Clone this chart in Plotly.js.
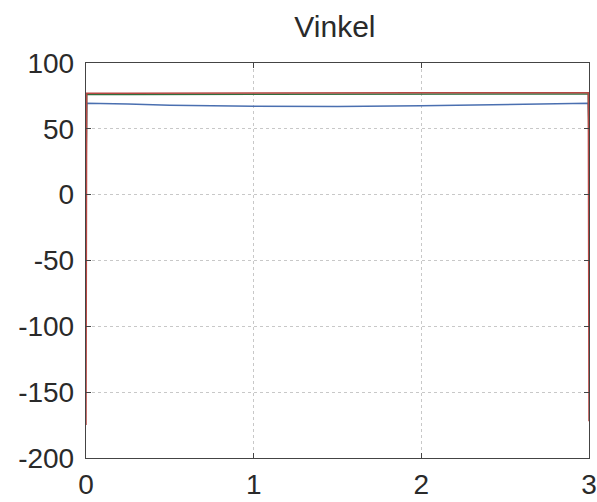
<!DOCTYPE html>
<html>
<head>
<meta charset="utf-8">
<script src="https://cdn.plot.ly/plotly-3.0.1.min.js"></script>
<style>
  html, body { margin: 0; padding: 0; background: #fff; }
  #plot { width: 597px; height: 502px; }
</style>
</head>
<body>
<div id="plot"></div>
<script>
// Time samples (s) and angle traces (degrees)
const time = [0, 0.004, 0.25, 0.5, 1.0, 1.5, 2.0, 2.5, 2.75, 2.996, 3.0];
const angleRed   = [-175, 77.0, 77.1, 77.2, 77.3, 77.3, 77.4, 77.4, 77.4, 77.4, -172];
const angleGreen = [0, 76.0, 76.1, 76.2, 76.3, 76.4, 76.5, 76.5, 76.5, 76.5, 30];
const angleBlue  = [20, 69.5, 68.8, 68.0, 67.2, 67.0, 67.6, 68.4, 68.8, 69.4, 50];
const xTicks = [0, 1, 2, 3];
const yTicks = [-200, -150, -100, -50, 0, 50, 100];

const traces = [
  { x: time, y: angleBlue,  mode: 'lines', line: { color: '#4a6fb0', width: 1.5 } },
  { x: time, y: angleGreen, mode: 'lines', line: { color: '#2f6e3e', width: 1.5 } },
  { x: time, y: angleRed,   mode: 'lines', line: { color: '#b84844', width: 1.5 } }
];

const axisCommon = {
  showline: true, linecolor: '#444', linewidth: 1.2, mirror: 'ticks',
  ticks: 'inside', ticklen: 5, tickcolor: '#444',
  showgrid: true, gridcolor: '#c8c8c8', griddash: 'dot', gridwidth: 1,
  zeroline: false,
  tickfont: { family: 'Liberation Sans, Arial, sans-serif', size: 28, color: '#2a2a2a' }
};

const layout = {
  width: 597, height: 502,
  margin: { l: 86, r: 8, t: 63, b: 44 },
  paper_bgcolor: '#fff', plot_bgcolor: '#fff',
  showlegend: false,
  title: { text: 'Vinkel', x: 0.561, xanchor: 'center', y: 0.948, yanchor: 'middle',
           font: { family: 'Liberation Sans, Arial, sans-serif', size: 30, color: '#2a2a2a' } },
  xaxis: Object.assign({}, axisCommon, { range: [0, 3], tickvals: xTicks, ticktext: xTicks.map(String), ticklabelstandoff: 1 }),
  yaxis: Object.assign({}, axisCommon, { range: [-200, 100], tickvals: yTicks, ticktext: yTicks.map(String), ticklabelstandoff: 5 })
};

Plotly.newPlot('plot', traces, layout, { staticPlot: true, displayModeBar: false });
</script>
</body>
</html>
